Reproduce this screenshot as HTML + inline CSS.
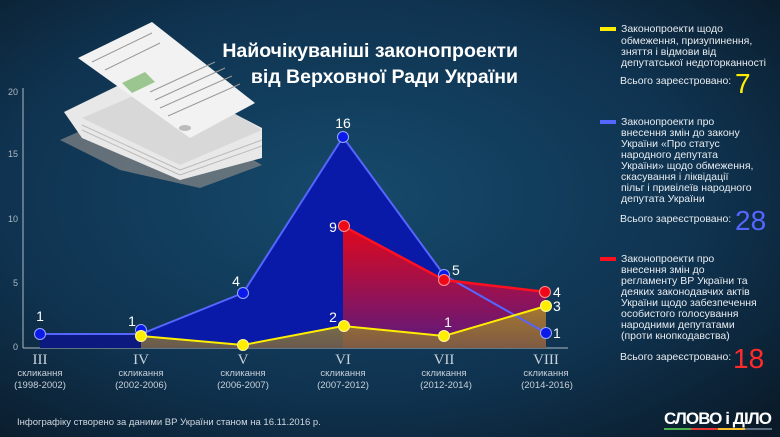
<!DOCTYPE html>
<html><head><meta charset="utf-8"><style>
html,body{margin:0;padding:0;width:780px;height:437px;overflow:hidden;background:#0d2538}
svg{display:block}
text{font-family:"Liberation Sans","DejaVu Sans",sans-serif}
text.serif{font-family:"Liberation Serif",serif}
</style></head><body>
<svg width="780" height="437" viewBox="0 0 780 437" xmlns="http://www.w3.org/2000/svg">
<defs>
<radialGradient id="bg" cx="0.45" cy="0.45" r="0.75">
<stop offset="0" stop-color="#164a6c"/><stop offset="0.6" stop-color="#0f3350"/><stop offset="1" stop-color="#0a1a28"/>
</radialGradient>
<linearGradient id="rg" x1="0" y1="0" x2="0" y2="1">
<stop offset="0" stop-color="#e0081c"/><stop offset="1" stop-color="#5a1a80"/>
</linearGradient>
<linearGradient id="yg" x1="0" y1="0" x2="0" y2="1">
<stop offset="0" stop-color="#b09a20"/><stop offset="1" stop-color="#8a7030"/>
</linearGradient>
</defs>
<rect width="780" height="437" fill="url(#bg)"/>
<g>
<polygon points="60,140 150,100 262,165 200,188 120,170" fill="#888" opacity="0.7"/>
<polygon points="64,112 150,70 262,128 262,158 180,180 82,138" fill="#e8e8e8"/>
<polygon points="82,118 175,78 262,130 180,165" fill="#d8d8d8"/>
<g stroke="#bbb" stroke-width="1"><line x1="82" y1="125" x2="180" y2="170"/><line x1="82" y1="130" x2="180" y2="175"/><line x1="180" y1="170" x2="262" y2="140"/><line x1="180" y1="175" x2="262" y2="146"/></g>
<polygon points="78,58 152,22 255,103 190,138" fill="#f2f2f2"/>
<polygon points="122,83 145,72 155,82 132,93" fill="#9cc690"/>
<g stroke="#999" stroke-width="1"><line x1="92" y1="62" x2="152" y2="33"/><line x1="105" y1="70" x2="160" y2="43"/><line x1="150" y1="92" x2="215" y2="62"/><line x1="155" y1="100" x2="225" y2="68"/><line x1="160" y1="108" x2="232" y2="76"/><line x1="168" y1="116" x2="240" y2="84"/></g>
<ellipse cx="185" cy="128" rx="6" ry="3" fill="#bbb"/>
</g>
<text x="518" y="57" fill="#fff" font-size="19.5" font-weight="bold" text-anchor="end">Найочікуваніші законопроекти</text>
<text x="518" y="83" fill="#fff" font-size="19.5" font-weight="bold" text-anchor="end">від Верховної Ради України</text>
<line x1="23" y1="88" x2="23" y2="348" stroke="#b0b8c0" stroke-width="1"/>
<line x1="23" y1="348" x2="568" y2="348" stroke="#b0b8c0" stroke-width="1"/>
<g fill="#b0b8c0" font-size="9" text-anchor="end">
<text x="18" y="95">20</text><text x="18" y="157">15</text><text x="18" y="222">10</text><text x="18" y="286">5</text><text x="18" y="350">0</text>
</g>
<polygon points="40,334 141,334 243,293 343,137 444,275 546,333 546,348 40,348" fill="#0a1aa8"/>
<polygon points="40,334 141,334 141,348 40,348" fill="#0c1a80"/>
<polygon points="343,226 444,280 546,292 546,348 343,348" fill="url(#rg)"/>
<polygon points="141,336 243,345 343,326 444,336 546,306 546,348 141,348" fill="url(#yg)" opacity="0.75"/>
<polyline points="40,334 141,334 243,293 343,137 444,275 546,333" fill="none" stroke="#5566ff" stroke-width="2"/>
<polyline points="343,226 444,280 546,292" fill="none" stroke="#ff1020" stroke-width="2.5"/>
<polyline points="141,336 243,345 343,326 444,336 546,306" fill="none" stroke="#ffee00" stroke-width="2"/>
<g stroke="#9aa8ff" stroke-width="1" fill="#0a1ae8">
<circle cx="40" cy="334" r="5.5"/><circle cx="141" cy="330" r="5.5"/><circle cx="243" cy="293" r="5.5"/><circle cx="343" cy="137" r="5.5"/><circle cx="444" cy="275" r="5.5"/><circle cx="546" cy="333" r="5.5"/>
</g>
<g stroke="#ff9090" stroke-width="1" fill="#ee0818">
<circle cx="344" cy="226" r="5.5"/><circle cx="444" cy="280" r="5.5"/><circle cx="545" cy="292" r="5.5"/>
</g>
<g stroke="#fff6a0" stroke-width="1" fill="#ffee00">
<circle cx="141" cy="336" r="5.5"/><circle cx="243" cy="345" r="5.5"/><circle cx="344" cy="326" r="5.5"/><circle cx="444" cy="336" r="5.5"/><circle cx="546" cy="306" r="5.5"/>
</g>
<g fill="#fff" font-size="14">
<text x="40" y="321" text-anchor="middle">1</text>
<text x="132" y="326" text-anchor="middle">1</text>
<text x="236" y="286" text-anchor="middle">4</text>
<text x="343" y="128" text-anchor="middle">16</text>
<text x="333" y="232" text-anchor="middle">9</text>
<text x="333" y="322" text-anchor="middle">2</text>
<text x="448" y="327" text-anchor="middle">1</text>
<text x="452" y="275">5</text>
<text x="553" y="297">4</text>
<text x="553" y="311">3</text>
<text x="553" y="338">1</text>
</g>
<g fill="#c8d0d8" text-anchor="middle">
<g font-size="15">
<text class="serif" x="40" y="364">III</text><text class="serif" x="141" y="364">IV</text><text class="serif" x="243" y="364">V</text><text class="serif" x="343" y="364">VI</text><text class="serif" x="444" y="364">VII</text><text class="serif" x="546" y="364">VIII</text>
</g>
<g font-size="9.5">
<text x="40" y="376">скликання</text><text x="141" y="376">скликання</text><text x="243" y="376">скликання</text><text x="343" y="376">скликання</text><text x="444" y="376">скликання</text><text x="546" y="376">скликання</text>
<text x="40" y="388">(1998-2002)</text><text x="141" y="388">(2002-2006)</text><text x="243" y="388">(2006-2007)</text><text x="343" y="388">(2007-2012)</text><text x="446" y="388">(2012-2014)</text><text x="547" y="388">(2014-2016)</text>
</g>
</g>
<g fill="#e8ecf0" font-size="10.5">
<rect x="600" y="27" width="16" height="4" fill="#ffee00"/>
<text x="621" y="32">Законопроекти щодо</text>
<text x="621" y="44">обмеження, призупинення,</text>
<text x="621" y="55">зняття і відмови від</text>
<text x="621" y="66">депутатської недоторканності</text>
<text x="620" y="84">Всього зареєстровано:</text>
<text x="735" y="93" font-size="28" fill="#ffee00">7</text>
<rect x="600" y="120" width="16" height="4" fill="#5566ff"/>
<text x="621" y="125">Законопроекти про</text>
<text x="621" y="136">внесення змін до закону</text>
<text x="621" y="147">України «Про статус</text>
<text x="621" y="158">народного депутата</text>
<text x="621" y="169">України» щодо обмеження,</text>
<text x="621" y="180">скасування і ліквідації</text>
<text x="621" y="191">пільг і привілеїв народного</text>
<text x="621" y="202">депутата України</text>
<text x="620" y="222">Всього зареєстровано:</text>
<text x="735" y="230" font-size="28" fill="#5566ff">28</text>
<rect x="600" y="257" width="16" height="4" fill="#ff1020"/>
<text x="621" y="262">Законопроекти про</text>
<text x="621" y="273">внесення змін до</text>
<text x="621" y="284">регламенту ВР України та</text>
<text x="621" y="295">деяких законодавчих актів</text>
<text x="621" y="306">України щодо забезпечення</text>
<text x="621" y="317">особистого голосування</text>
<text x="621" y="328">народними депутатами</text>
<text x="621" y="339">(проти кнопкодавства)</text>
<text x="620" y="360">Всього зареєстровано:</text>
<text x="733" y="368" font-size="28" fill="#ff2a2a">18</text>
</g>
<text x="17" y="425" fill="#d0d8e0" font-size="9.5">Інфографіку створено за даними ВР України станом на 16.11.2016 р.</text>
<text x="664" y="424" fill="#fff" font-size="17" font-weight="bold" textLength="108">СЛОВО і ДІЛО</text>
<rect x="664" y="428" width="27" height="2" fill="#4caf50"/>
<rect x="691" y="428" width="27" height="2" fill="#e53935"/>
<rect x="718" y="428" width="27" height="2" fill="#fbc02d"/>
<rect x="745" y="428" width="27" height="2" fill="#607080"/>
</svg>
</body></html>
